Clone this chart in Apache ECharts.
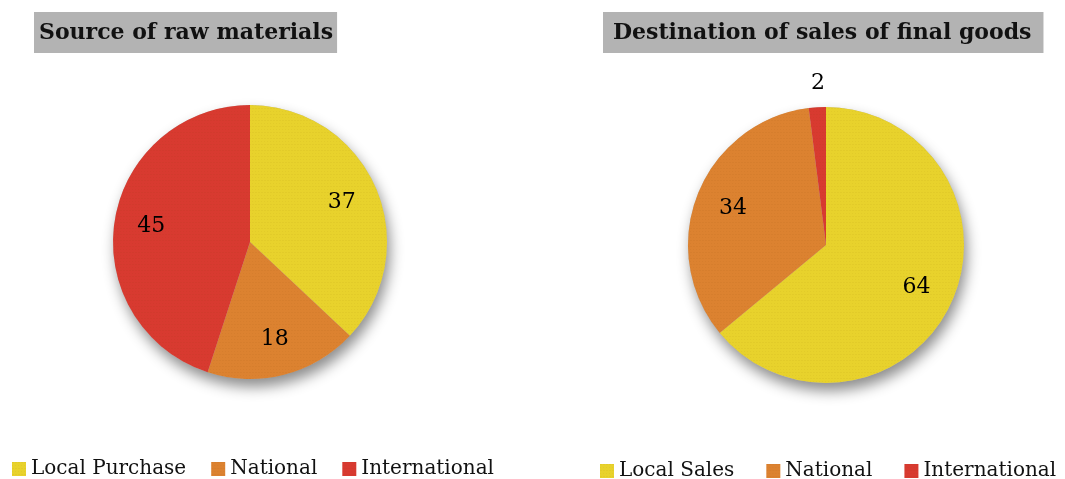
<!DOCTYPE html>
<html>
<head>
<meta charset="utf-8">
<script src="https://cdn.jsdelivr.net/npm/echarts@6/dist/echarts.min.js"></script>
<style>
  html, body { margin: 0; padding: 0; background: #fff; }
  #chart { width: 1065px; height: 479px; }
</style>
</head>
<body>
<div id="chart"></div>
<script>
// Source of raw materials (%)
const sourceNames = ['Local Purchase', 'National', 'International'];
const sourceValues = [37, 18, 45];

// Destination of sales of final goods (%)
const destNames = ['Local Sales', 'National', 'International'];
const destValues = [64, 34, 2];

const sliceColors = ['#e8d22c', '#dc8230', '#d83a30'];
const serif = '"DejaVu Serif", "Liberation Serif", serif';

// fine woven grain over every slice
const texture = {
  symbol: 'rect',
  symbolSize: 0.7,
  dashArrayX: [[1, 2], [2, 1]],
  dashArrayY: [1, 2],
  rotation: 0,
  color: 'rgba(110, 70, 0, 0.14)'
};

function pieData(names, values) {
  return names.map((n, i) => ({ name: n, value: values[i], itemStyle: { color: sliceColors[i], decal: texture } }));
}

// Solid disc under the slices that carries the drop shadow
function shadowDisc(center, r) {
  return {
    type: 'pie',
    center: center,
    radius: r,
    silent: true,
    z: 1,
    data: [{ value: 1, name: '' }],
    label: { show: false },
    labelLine: { show: false },
    itemStyle: {
      color: '#bbb',
      shadowBlur: 14,
      shadowOffsetX: 3,
      shadowOffsetY: 8,
      shadowColor: 'rgba(0,0,0,0.45)'
    },
    emphasis: { disabled: true }
  };
}

function mainPie(center, r, names, values, outsideIdx) {
  const data = pieData(names, values);
  data.forEach((d, i) => {
    d.label = { show: i === outsideIdx };
  });
  return {
    type: 'pie',
    center: center,
    radius: r,
    startAngle: 90,
    clockwise: true,
    silent: true,
    z: 2,
    data: data,
    label: {
      position: 'outside',
      formatter: '{c}',
      color: '#000',
      fontFamily: serif,
      fontSize: 22
    },
    labelLine: { show: false, length: 22, length2: 0 },
    // the small outside label sits centred over the thin slice
    labelLayout: { dx: 14, dy: -2 },
    emphasis: { disabled: true }
  };
}

// Invisible wider ring that places the value labels near 0.7 of the slice radius
function labelPie(center, names, values, skipIdx) {
  return {
    type: 'pie',
    center: center,
    radius: [0, 194],
    startAngle: 90,
    clockwise: true,
    silent: true,
    z: 5,
    data: names.map((n, i) => ({
      name: n,
      value: values[i],
      label: { show: i !== skipIdx }
    })),
    itemStyle: { color: 'rgba(0,0,0,0)' },
    label: {
      position: 'inside',
      formatter: '{c}',
      color: '#000',
      fontFamily: serif,
      fontSize: 22
    },
    labelLine: { show: false },
    emphasis: { disabled: true }
  };
}

function legendData(names) {
  return names.map((n, i) => ({ name: n, itemStyle: { color: sliceColors[i] } }));
}

const titleStyle = {
  fontFamily: serif,
  fontWeight: 'bold',
  fontSize: 22,
  lineHeight: 26,
  color: '#111'
};

const legendText = { fontFamily: serif, fontSize: 20, color: '#111' };

const chart = echarts.init(document.getElementById('chart'));
chart.setOption({
  backgroundColor: '#fff',
  animation: false,
  title: [
    {
      text: 'Source of raw materials',
      left: 34, top: 12,
      backgroundColor: '#b3b3b3',
      padding: [8, 4, 7, 5],
      textStyle: titleStyle
    },
    {
      text: 'Destination of sales of final goods',
      left: 603, top: 12,
      backgroundColor: '#b3b3b3',
      padding: [8, 12, 7, 10],
      textStyle: titleStyle
    }
  ],
  legend: [
    {
      left: 12, top: 459,
      padding: 0,
      itemWidth: 14, itemHeight: 14, itemGap: 25,
      icon: 'rect',
      selectedMode: false,
      data: legendData(sourceNames),
      textStyle: legendText
    },
    {
      left: 600, top: 461,
      padding: 0,
      itemWidth: 14, itemHeight: 14, itemGap: 32,
      icon: 'rect',
      selectedMode: false,
      data: legendData(destNames),
      textStyle: legendText
    }
  ],
  series: [
    shadowDisc([250, 242], 137),
    mainPie([250, 242], 137, sourceNames, sourceValues, -1),
    labelPie([250, 242], sourceNames, sourceValues, -1),
    shadowDisc([826, 245], 138),
    mainPie([826, 245], 138, destNames, destValues, 2),
    labelPie([826, 245], destNames, destValues, 2)
  ]
});
</script>
</body>
</html>
